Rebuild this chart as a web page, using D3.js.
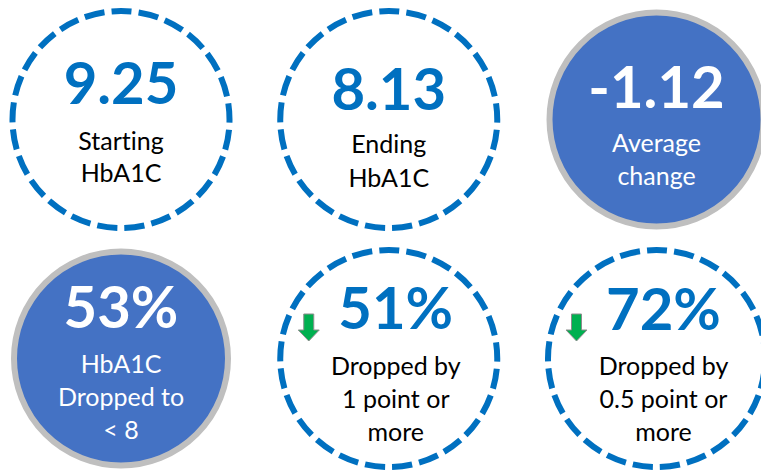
<!DOCTYPE html>
<html>
<head>
<meta charset="utf-8">
<script src="https://cdn.jsdelivr.net/npm/d3@7"></script>
<style>
  html, body { margin: 0; padding: 0; background: #fff; }
  svg { display: block; }
  text { font-variant-ligatures: none; font-feature-settings: "liga" 0, "clig" 0; }
</style>
</head>
<body>
<svg id="chart" width="761" height="471"></svg>
<script>
// ---- data ----
const metrics = ["Starting HbA1C", "Ending HbA1C", "Average change", "HbA1C < 8", "Drop >= 1", "Drop >= 0.5"];
const values = ["9.25", "8.13", "-1.12", "53%", "51%", "72%"];
const labels = [
  ["Starting", "HbA1C"],
  ["Ending", "HbA1C"],
  ["Average", "change"],
  ["HbA1C", "Dropped to", "< 8"],
  ["Dropped by", "1 point or", "more"],
  ["Dropped by", "0.5 point or", "more"]
];
const filled = [false, false, true, true, false, false];
const arrows = [false, false, false, false, true, true];

// ---- layout (positions, not data) ----
const valueDy = [-15.5, -9.5, -11.5, -30.5, -29.5, -29];
const labelDy = [30.5, 33.5, 32.5, 14, 16.5, 16.5];
const lineStep = [32, 34, 33, 33, 33, 33];

const W = 761, H = 471;
const svg = d3.select("#chart");
const FONT = "Lato, 'Open Sans', sans-serif";
const BLUE = "#0070C0", FILL = "#4472C4", GREY = "#BFBFBF", GREEN = "#00B050";

const colX = d3.scalePoint().domain([0, 1, 2]).range([121, 656.5]);
const rowY = d3.scalePoint().domain([0, 1]).range([119.5, 358.5]);

const items = metrics.map((m, i) => ({
  i, key: m, value: values[i], lines: labels[i], filled: filled[i], arrow: arrows[i],
  col: i % 3, row: Math.floor(i / 3)
}));

const g = svg.selectAll("g.kpi").data(items).join("g")
  .attr("class", "kpi")
  .attr("transform", d => `translate(${colX(d.col)},${rowY(d.row)})`);

// circles
const R = 108.5;
const C = 2 * Math.PI * R;
const nDash = 25;
const period = C / nDash;
const dash = period * 0.74;
g.append("circle")
  .attr("r", d => d.filled ? 107 : R)
  .attr("fill", d => d.filled ? FILL : "none")
  .attr("stroke", d => d.filled ? GREY : BLUE)
  .attr("stroke-width", 6)
  .attr("stroke-dasharray", d => d.filled ? null : `${dash} ${period - dash}`)
  .attr("stroke-dashoffset", d => d.filled ? null : (dash / 2 - 0.75 * C));

// big value
g.append("text")
  .attr("x", d => d.arrow ? 7 : 0)
  .attr("y", d => valueDy[d.i])
  .attr("text-anchor", "middle")
  .attr("font-family", FONT)
  .attr("font-weight", 700)
  .attr("font-size", 58)
  .attr("fill", d => d.filled ? "#fff" : BLUE)
  .text(d => d.value);

// labels
g.each(function(d) {
  const sel = d3.select(this);
  sel.selectAll("text.lbl").data(d.lines).join("text")
    .attr("class", "lbl")
    .attr("x", d.arrow ? 7 : 0)
    .attr("y", (t, j) => labelDy[d.i] + j * lineStep[d.i])
    .attr("text-anchor", "middle")
    .attr("font-family", FONT)
    .attr("font-size", 25)
    .attr("fill", d.filled ? "#fff" : "#000")
    .text(t => t);
});

// green down arrows
const arrowPath = "M -5 0 L 5 0 L 5 16 L 10.5 16 L 0 27 L -10.5 16 L -5 16 Z";
g.filter(d => d.arrow).append("path")
  .attr("d", arrowPath)
  .attr("transform", "translate(-80,-44.5)")
  .attr("fill", GREEN)
  .attr("stroke", "#8c8c8c")
  .attr("stroke-width", 1);
</script>
</body>
</html>
